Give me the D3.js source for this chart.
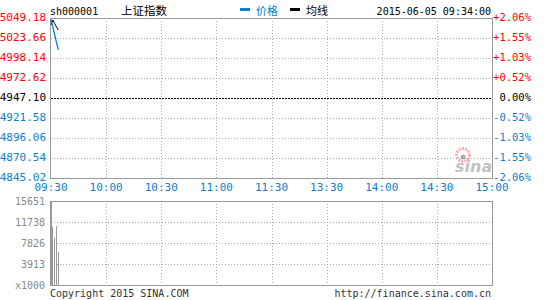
<!DOCTYPE html>
<html>
<head>
<meta charset="utf-8">
<script src="https://cdn.jsdelivr.net/npm/d3@7"></script>
<style>
  body { margin: 0; background: #fff; }
  text { font-family: "DejaVu Sans Mono", monospace; }
</style>
</head>
<body>
<div id="chart"></div>
<script>
// data
const timeLabels = ["09:30", "10:00", "10:30", "11:00", "11:30", "13:30", "14:00", "14:30", "15:00"];
const timeTicks = [0, 30, 60, 90, 120, 150, 180, 210, 240];
const priceTicks = [5049.18, 5023.66, 4998.14, 4972.62, 4947.10, 4921.58, 4896.06, 4870.54, 4845.02];
const pctLabels = ["+2.06%", "+1.55%", "+1.03%", "+0.52%", "0.00%", "-0.52%", "-1.03%", "-1.55%", "-2.06%"];
const prevClose = 4947.10;
const minutes = [0, 1, 2, 3, 4];
const prices = [5047.5, 5037.7, 5027.5, 5017.9, 5008.4];
const avgPrices = [5040.3, 5046.6, 5042.2, 5037.7, 5033.9];
const volumes = [15651, 10860, 8810, 10990, 6200];
const volTicks = [15651, 11738, 7826, 3913, 0];

const W = 545, H = 300;
const left = 51, right = 492;
const main = { top: 18, bottom: 178 };
const vol = { top: 201, bottom: 285 };

const red = "#ff0000", blue = "#0a80cf", grey = "#999";

const svg = d3.select("#chart").append("svg")
    .attr("width", W)
    .attr("height", H);

const x = d3.scaleLinear().domain([0, 240]).range([left, right]);
const y = d3.scaleLinear().domain([4845.02, 5049.18]).range([main.bottom, main.top]);
const yv = d3.scaleLinear().domain([0, 15651]).range([vol.bottom, vol.top]);

const colorFor = v => v > prevClose + 0.001 ? red : (v < prevClose - 0.001 ? blue : "#000");

// header
svg.append("text").attr("x", 50).attr("y", 15).attr("font-size", 10).text("sh000001");
svg.append("text").attr("x", 121).attr("y", 15).attr("font-size", 11.5)
    .style("font-family", "'Noto Sans CJK SC'").text("上证指数");
svg.append("rect").attr("x", 240).attr("y", 8).attr("width", 10).attr("height", 3).attr("fill", blue);
svg.append("text").attr("x", 256).attr("y", 15).attr("font-size", 11).attr("fill", blue)
    .style("font-family", "'Noto Sans CJK SC'").text("价格");
svg.append("rect").attr("x", 290).attr("y", 8).attr("width", 10).attr("height", 3).attr("fill", "#000");
svg.append("text").attr("x", 306).attr("y", 15).attr("font-size", 11)
    .style("font-family", "'Noto Sans CJK SC'").text("均线");
svg.append("text").attr("x", 491).attr("y", 15).attr("font-size", 10).attr("text-anchor", "end")
    .text("2015-06-05 09:34:00");

// main grid
const gMain = svg.append("g");
gMain.selectAll(".hgrid").data(priceTicks.slice(1, -1)).join("line")
    .attr("x1", left).attr("x2", right)
    .attr("y1", d => Math.round(y(d)) + 0.5).attr("y2", d => Math.round(y(d)) + 0.5)
    .attr("stroke", d => d === prevClose ? "#000" : "#aaa")
    .attr("stroke-dasharray", d => d === prevClose ? "2,1" : "1,2");
gMain.selectAll(".vgrid").data(timeTicks.slice(1, -1)).join("line")
    .attr("x1", d => Math.round(x(d)) + 0.5).attr("x2", d => Math.round(x(d)) + 0.5)
    .attr("y1", main.top).attr("y2", main.bottom)
    .attr("stroke", "#aaa").attr("stroke-dasharray", "1,2");

// sina watermark
const logo = svg.append("g").attr("opacity", 0.6);
logo.append("circle").attr("cx", 463).attr("cy", 155).attr("r", 6.5)
    .attr("fill", "none").attr("stroke", "#f07878").attr("stroke-width", 3)
    .attr("stroke-dasharray", "2,1.2");
logo.append("circle").attr("cx", 463).attr("cy", 157).attr("r", 2.5).attr("fill", "#777");
logo.append("text").attr("x", 455).attr("y", 172).attr("font-size", 16)
    .attr("font-weight", "bold").attr("font-style", "italic").attr("fill", "#999")
    .style("font-family", "'DejaVu Sans'").text("sina");

// main frame
svg.append("rect").attr("x", left - 0.5).attr("y", main.top + 0.5)
    .attr("width", right - left + 1).attr("height", main.bottom - main.top)
    .attr("fill", "none").attr("stroke", grey);

// price axis labels
svg.selectAll(".plab").data(priceTicks).join("text")
    .attr("x", 46).attr("y", d => y(d) + 3)
    .attr("text-anchor", "end").attr("font-size", 11)
    .attr("fill", colorFor)
    .text(d => d.toFixed(2));
svg.selectAll(".pct").data(priceTicks).join("text")
    .attr("x", 531).attr("y", d => y(d) + 3)
    .attr("text-anchor", "end").attr("font-size", 10.5)
    .attr("fill", colorFor)
    .text((d, i) => pctLabels[i]);

// time labels
svg.selectAll(".tlab").data(timeTicks).join("text")
    .attr("x", d => x(d)).attr("y", 191)
    .attr("text-anchor", "middle").attr("font-size", 11).attr("fill", blue)
    .text((d, i) => timeLabels[i]);

// price + average lines
const line = d3.line().x(d => x(d[0])).y(d => y(d[1]));
svg.append("path").datum(minutes.map((m, i) => [m, avgPrices[i]]))
    .attr("d", line).attr("fill", "none").attr("stroke", "#000").attr("stroke-width", 1);
svg.append("path").datum(minutes.map((m, i) => [m, prices[i]]))
    .attr("d", line).attr("fill", "none").attr("stroke", blue).attr("stroke-width", 1.3);

// volume panel
const gVol = svg.append("g");
gVol.selectAll(".vh").data(volTicks.slice(1, -1)).join("line")
    .attr("x1", left).attr("x2", right)
    .attr("y1", d => Math.round(yv(d)) + 0.5).attr("y2", d => Math.round(yv(d)) + 0.5)
    .attr("stroke", "#aaa").attr("stroke-dasharray", "1,2");
gVol.selectAll(".vv").data(timeTicks.slice(1, -1)).join("line")
    .attr("x1", d => Math.round(x(d)) + 0.5).attr("x2", d => Math.round(x(d)) + 0.5)
    .attr("y1", vol.top).attr("y2", vol.bottom)
    .attr("stroke", "#aaa").attr("stroke-dasharray", "1,2");
gVol.selectAll(".bar").data(volumes).join("rect")
    .attr("x", (d, i) => Math.floor(x(minutes[i])))
    .attr("y", d => yv(d))
    .attr("width", 1)
    .attr("height", d => vol.bottom - yv(d))
    .attr("fill", grey);
svg.append("rect").attr("x", left - 0.5).attr("y", vol.top + 0.5)
    .attr("width", right - left + 1).attr("height", vol.bottom - vol.top)
    .attr("fill", "none").attr("stroke", grey);

svg.selectAll(".vlab").data(volTicks).join("text")
    .attr("x", 45).attr("y", d => yv(d) + 4)
    .attr("text-anchor", "end").attr("font-size", 10).attr("fill", "#888")
    .text(d => d === 0 ? "x1000" : d);

// footer
svg.append("text").attr("x", 50).attr("y", 297).attr("font-size", 10).attr("fill", "#333")
    .text("Copyright 2015 SINA.COM");
svg.append("text").attr("x", 491).attr("y", 297).attr("font-size", 10).attr("fill", "#333")
    .attr("text-anchor", "end").text("http://finance.sina.com.cn");
</script>
</body>
</html>
